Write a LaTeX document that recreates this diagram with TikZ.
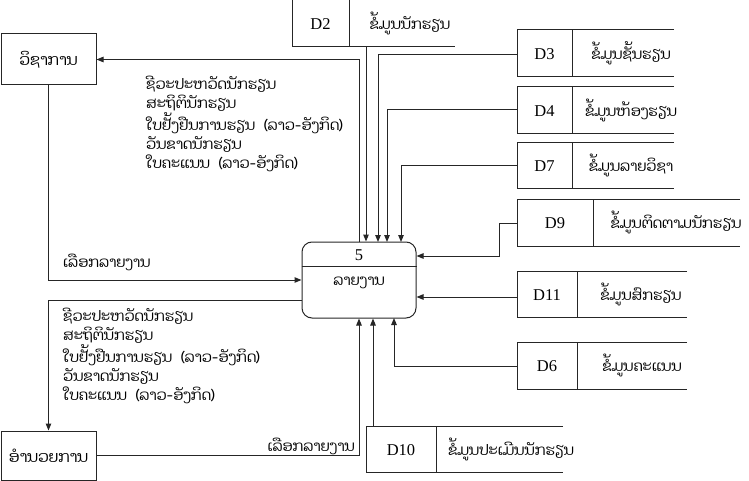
\documentclass[tikz,border=0pt]{standalone}
\usepackage{fontspec}
\setmainfont{Liberation Serif}
\newfontfamily\lao[Script=Lao]{Dhyana}
\usetikzlibrary{arrows.meta}
\tikzset{
  ln/.style={draw=black!85, line width=1pt},
  flow/.style={ln, -{Triangle[length=7pt,width=5.5pt]}},
  extbox/.style={ln, rectangle, inner sep=0pt},
  idtxt/.style={font=\fontsize{16.5}{18}\selectfont, inner sep=0pt, anchor=base},
  laotxt/.style={font=\lao\fontsize{14.6}{19}\selectfont, inner sep=0pt, anchor=base},
  laoblock/.style={font=\lao\fontsize{14.6}{19}\selectfont, inner sep=0pt, anchor=north west, align=left},
}
\newcommand\gap{\hspace{9pt}}
\newcommand\dstore[9]{%
  % #1 name, #2 L, #3 T, #4 M, #5 R, #6 B, #7 id, #8 text, #9 text center x
  \node[idtxt] (#1) at ({(#2+#4)/2},{(#3+#6)/2+6}) {#7};
  \node[laotxt] (#1t) at (#9,{(#3+#6)/2+6}) {#8};
  \coordinate (#1L) at (#2,{(#3+#6)/2});
  \draw[ln] (#5,#3) -- (#2,#3) -- (#2,#6) -- (#5,#6) (#4,#3) -- (#4,#6);
}
\begin{document}
\begin{tikzpicture}[x=1pt,y=-1pt]
\useasboundingbox (0,0) rectangle (749,481);
% external entities
\node[extbox, minimum width=95pt, minimum height=51pt] (vich) at (48.5,59.5) {\lao\fontsize{15.5}{17}\selectfont ວິຊາການ};
\node[extbox, minimum width=95pt, minimum height=49pt] (ann) at (48.5,455.5) {\lao\fontsize{15.5}{17}\selectfont ອຳນວຍການ};
% process
\node[ln, rectangle, rounded corners=10pt, minimum width=114pt, minimum height=76pt, inner sep=0pt] (proc) at (359,280) {};
\draw[ln] (proc.west |- 0,266) -- (proc.east |- 0,266);
\node[idtxt] (pnum) at (359,260) {5};
\node[laotxt] (pname) at (359,285) {ລາຍງານ};
% data stores
\dstore{d2}{292}{0}{349}{455}{47}{D2}{ຂໍ້ມູນນັກຮຽນ}{410}
\dstore{d3}{517}{30}{572}{674}{77}{D3}{ຂໍ້ມູນຊັ້ນຮຽນ}{631}
\dstore{d4}{517}{87}{572}{674}{134}{D4}{ຂໍ້ມູນຫ້ອງຮຽນ}{631}
\dstore{d7}{517}{143}{572}{674}{189}{D7}{ຂໍ້ມູນລາຍວິຊາ}{631}
\dstore{d9}{517}{199}{593}{740}{246}{D9}{ຂໍ້ມູນຕິດຕາມນັກຮຽນ}{676}
\dstore{d11}{517}{271}{577}{687}{317}{D11}{ຂໍ້ມູນສົກຮຽນ}{641}
\dstore{d6}{517}{342}{577}{687}{389}{D6}{ຂໍ້ມູນຄະແນນ}{642}
\dstore{d10}{366}{426}{436}{563}{472}{D10}{ຂໍ້ມູນປະເມີນນັກຮຽນ}{511}
\coordinate (d2B) at (366,47);
\coordinate (d10T) at (373,426);
% connectors
\draw[flow] (proc.north) |- (vich.east);
\draw[flow] (vich.south) |- (proc.west);
\draw[flow] ([yshift=-20pt]proc.west) -| (ann.north);
\draw[flow] (ann.east) -| (proc.south);
\draw[flow] (d2B) -- (d2B |- proc.north);
\draw[flow] (517,55) -| (378,242);
\draw[flow] (517,110) -| (387,242);
\draw[flow] (517,166) -| (401,242);
\draw[flow] (517,223) -| (499,256) -- (proc.east |- 0,256);
\draw[flow] (517,297) -- (proc.east |- 0,297);
\draw[flow] (517,366) -| (394,318);
\draw[flow] (d10T) -- (d10T |- proc.south);
% labels
\node[laoblock] (lblA) at (146,76) {ຊີວະປະຫວັດນັກຮຽນ\\ສະຖິຕິນັກຮຽນ\\ໃບຢັ້ງຢືນການຮຽນ\gap(ລາວ-ອັງກິດ)\\ວັນຂາດນັກຮຽນ\\ໃບຄະແນນ\gap(ລາວ-ອັງກິດ)};
\node[laotxt, anchor=base west] (lblB) at (63,267) {ເລືອກລາຍງານ};
\node[laoblock] (lblC) at (63,308) {ຊີວະປະຫວັດນັກຮຽນ\\ສະຖິຕິນັກຮຽນ\\ໃບຢັ້ງຢືນການຮຽນ\gap(ລາວ-ອັງກິດ)\\ວັນຂາດນັກຮຽນ\\ໃບຄະແນນ\gap(ລາວ-ອັງກິດ)};
\node[laotxt, anchor=base east] (lblD) at (355,451) {ເລືອກລາຍງານ};
\end{tikzpicture}
\end{document}
